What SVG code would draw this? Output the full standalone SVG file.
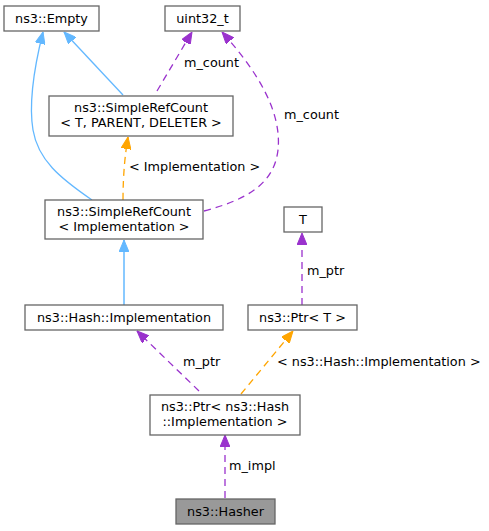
<svg xmlns="http://www.w3.org/2000/svg" width="489" height="531" viewBox="0 0 489 531">
<style>
.n rect{fill:#fff;stroke:#666;stroke-width:1.3}
.n text,.lbl{font-family:"DejaVu Sans",sans-serif;font-size:12.8px;fill:#000}
.n text{text-anchor:middle}
.e path{fill:none;stroke-width:1.3}
.blue{stroke:#63b8ff}
.purple{stroke:#9a32cd;stroke-dasharray:7,5}
.orange{stroke:#ffa500;stroke-dasharray:7,5}
</style>
<defs>
<marker id="ab" markerWidth="12" markerHeight="10" refX="12" refY="5" orient="auto" markerUnits="userSpaceOnUse"><path d="M0,0 L12,5 L0,10 Z" fill="#63b8ff" stroke="#63b8ff"/></marker>
<marker id="ap" markerWidth="12" markerHeight="10" refX="12" refY="5" orient="auto" markerUnits="userSpaceOnUse"><path d="M0,0 L12,5 L0,10 Z" fill="#9a32cd" stroke="#9a32cd"/></marker>
<marker id="ao" markerWidth="12" markerHeight="10" refX="12" refY="5" orient="auto" markerUnits="userSpaceOnUse"><path d="M0,0 L12,5 L0,10 Z" fill="#ffa500" stroke="#ffa500"/></marker>
</defs>
<rect width="489" height="531" fill="#fff"/>
<g id="edges" class="e">
<path class="blue" d="M92,200 C60,178 38,160 33,130 C28,100 36,60 43,32" marker-end="url(#ab)"/>
<path class="blue" d="M123,95 L64,32" marker-end="url(#ab)"/>
<path class="purple" d="M157,91 L192,32" marker-end="url(#ap)"/>
<path class="purple" d="M204,211 C245,200 274,185 278,150 C282,112 258,72 222,32" marker-end="url(#ap)"/>
<path class="orange" d="M123,200 C123,175 125,155 128,137" marker-end="url(#ao)"/>
<path class="blue" style="stroke-width:1.5" d="M124,305 L124,240" marker-end="url(#ab)"/>
<path class="purple" d="M302,305 L302,233" marker-end="url(#ap)"/>
<path class="purple" d="M199,391 L137,331" marker-end="url(#ap)"/>
<path class="orange" d="M241,394 L293,331" marker-end="url(#ao)"/>
<path class="purple" d="M225,498 L225,435" marker-end="url(#ap)"/>
</g>
<g id="labels">
<text class="lbl" x="184" y="67">m_count</text>
<text class="lbl" x="284" y="119">m_count</text>
<text class="lbl" x="129" y="171">&lt; Implementation &gt;</text>
<text class="lbl" x="307" y="275">m_ptr</text>
<text class="lbl" x="183" y="366">m_ptr</text>
<text class="lbl" x="277" y="366">&lt; ns3::Hash::Implementation &gt;</text>
<text class="lbl" x="229" y="470">m_impl</text>
</g>
<g id="empty" class="n"><rect x="4" y="6" width="95" height="25"/><text x="51.5" y="23">ns3::Empty</text></g>
<g id="uint32" class="n"><rect x="165" y="6" width="75" height="25"/><text x="202.5" y="23">uint32_t</text></g>
<g id="srcTPD" class="n"><rect x="49" y="96" width="184" height="40"/><text x="141" y="112">ns3::SimpleRefCount</text><text x="141" y="127">&lt; T, PARENT, DELETER &gt;</text></g>
<g id="srcImpl" class="n"><rect x="45" y="200" width="158" height="39"/><text x="124" y="216">ns3::SimpleRefCount</text><text x="124" y="231">&lt; Implementation &gt;</text></g>
<g id="T" class="n"><rect x="284" y="207" width="38" height="25"/><text x="303" y="224">T</text></g>
<g id="hashImpl" class="n"><rect x="25" y="305" width="198" height="25"/><text x="124" y="322">ns3::Hash::Implementation</text></g>
<g id="ptrT" class="n"><rect x="248" y="305" width="109" height="25"/><text x="302.5" y="322">ns3::Ptr&lt; T &gt;</text></g>
<g id="ptrHash" class="n"><rect x="150" y="395" width="150" height="40"/><text x="225" y="411">ns3::Ptr&lt; ns3::Hash</text><text x="225" y="426">::Implementation &gt;</text></g>
<g id="hasher" class="n"><rect x="176" y="499" width="99" height="25" style="fill:#999"/><text x="225.5" y="516">ns3::Hasher</text></g>
</svg>
